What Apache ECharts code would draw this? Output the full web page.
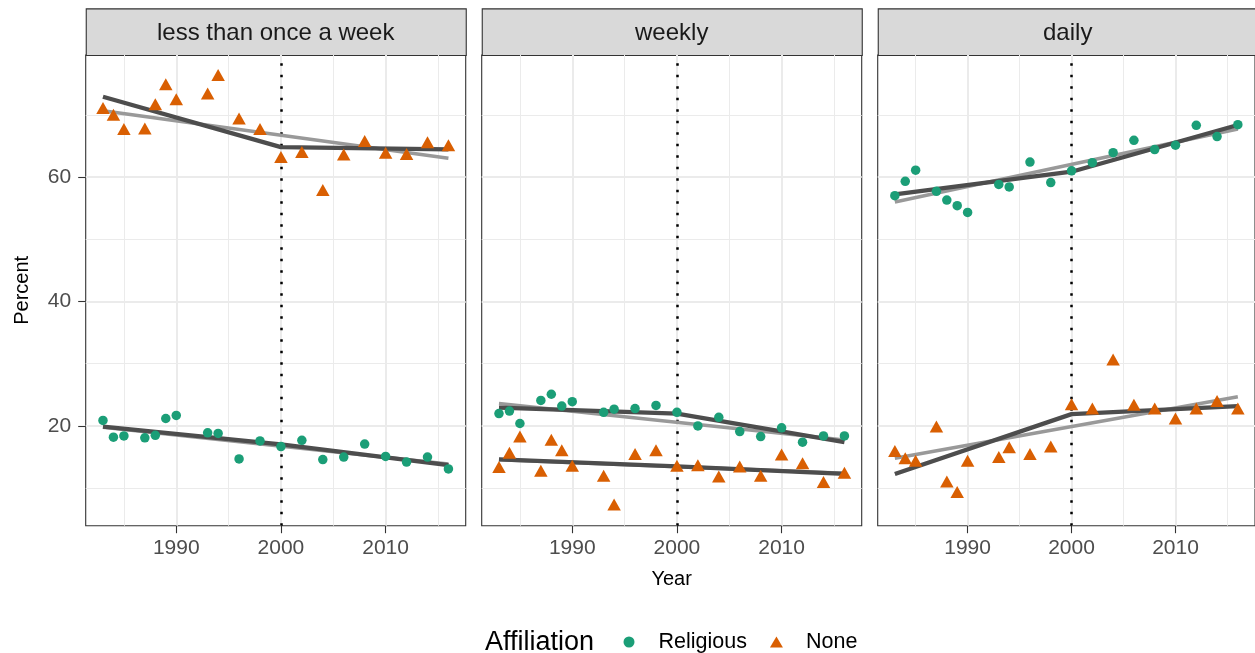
<!DOCTYPE html>
<html lang="en">
<head>
<meta charset="UTF-8">
<title>Affiliation by year</title>
<script src="https://cdn.jsdelivr.net/npm/echarts@6/dist/echarts.min.js"></script>
</head>
<body style="margin:0">
<div id="main" style="width:1255px;height:653px;"></div>
<script>
var facets = ['less than once a week', 'weekly', 'daily'];
var years = [1983, 1984, 1985, 1987, 1988, 1989, 1990, 1993, 1994, 1996, 1998,
             2000, 2002, 2004, 2006, 2008, 2010, 2012, 2014, 2016];

// points, one array per facet and affiliation
var relLess    = [20.9, 18.2, 18.4, 18.1, 18.5, 21.2, 21.7, 18.9, 18.8, 14.7, 17.6, 16.7, 17.7, 14.6, 15.0, 17.1, 15.1, 14.2, 15.0, 13.1];
var noneLess   = [71.1, 70.0, 67.7, 67.8, 71.7, 74.9, 72.5, 73.4, 76.4, 69.4, 67.7, 63.2, 64.0, 57.9, 63.6, 65.8, 63.9, 63.7, 65.6, 65.1];
var relWeekly  = [22.0, 22.4, 20.4, 24.1, 25.1, 23.2, 23.9, 22.2, 22.7, 22.8, 23.3, 22.2, 20.0, 21.4, 19.1, 18.3, 19.7, 17.4, 18.4, 18.4];
var noneWeekly = [13.4, 15.7, 18.3, 12.8, 17.8, 16.1, 13.6, 12.0, 7.4, 15.5, 16.1, 13.6, 13.7, 11.9, 13.5, 12.0, 15.4, 14.0, 11.0, 12.5];
var relDaily   = [57.0, 59.3, 61.1, 57.7, 56.3, 55.4, 54.3, 58.8, 58.4, 62.4, 59.1, 61.0, 62.3, 63.9, 65.9, 64.4, 65.1, 68.3, 66.5, 68.4];
var noneDaily  = [16.0, 14.8, 14.4, 19.9, 11.1, 9.4, 14.4, 15.0, 16.6, 15.5, 16.7, 23.5, 22.8, 30.7, 23.4, 22.8, 21.2, 22.8, 24.0, 22.8];

// straight fit (light grey), values at 1983 and 2016
var fitYears = [1983, 2016];
var fitRel  = [[19.8, 13.9], [23.6, 17.75], [56.0, 67.7]];
var fitNone = [[70.65, 63.0], [14.6, 12.4], [14.8, 24.7]];

// segmented fit (dark grey), break at 2000
var segYears = [1983, 2000, 2016];
var segRel  = [[19.9, 17.05, 13.7], [22.95, 22.0, 17.4], [57.2, 60.85, 68.35]];
var segNone = [[72.9, 64.8, 64.45], [14.65, 13.5, 12.3], [12.3, 21.9, 23.2]];

var breakYear = 2000;
var xTicks = [1990, 2000, 2010];
var xMinor = [1985, 1995, 2005, 2015];
var yTicks = [20, 40, 60];
var yMinor = [10, 30, 50, 70];

var relPts = [relLess, relWeekly, relDaily];
var nonePts = [noneLess, noneWeekly, noneDaily];

var panelLeft = [85.7, 481.7, 877.7];
var panelW = 380, panelTop = 55, panelH = 470.7;

function pairs(xs, ys) {
    return xs.map(function (x, i) { return [x, ys[i]]; });
}

var grids = [], xAxes = [], yAxes = [], series = [], graphics = [];

facets.forEach(function (f, i) {
    grids.push({
        left: panelLeft[i], top: panelTop, width: panelW, height: panelH,
        show: true, backgroundColor: '#fff', borderColor: '#333333', borderWidth: 1.1
    });
    xAxes.push({
        type: 'value', gridIndex: i, min: 1981.35, max: 2017.65,
        splitLine: {show: false},
        axisLine: {show: false},
        axisTick: {show: true, customValues: xTicks, length: 7.5, lineStyle: {color: '#333333', width: 1.1}},
        axisLabel: {customValues: xTicks, fontSize: 21, color: '#4D4D4D', margin: 12, fontFamily: 'Liberation Sans',
            formatter: function (v) { return String(v); }},
        name: i === 1 ? 'Year' : '',
        nameLocation: 'middle', nameGap: 44,
        nameTextStyle: {fontSize: 20, color: '#000', fontFamily: 'Liberation Sans'}
    });
    yAxes.push({
        type: 'value', gridIndex: i, min: 3.98, max: 79.6,
        splitLine: {show: false},
        axisLine: {show: false},
        axisTick: {show: i === 0, customValues: yTicks, length: 7.5, lineStyle: {color: '#333333', width: 1.1}},
        axisLabel: {show: i === 0, customValues: yTicks, fontSize: 21, color: '#4D4D4D', margin: 14.5, fontFamily: 'Liberation Sans'},
        name: i === 0 ? 'Percent' : '',
        nameLocation: 'middle', nameGap: 53,
        nameTextStyle: {fontSize: 20, color: '#000', fontFamily: 'Liberation Sans'}
    });

    // background grid lines
    var gl = [];
    xMinor.forEach(function (v) { gl.push({xAxis: v, lineStyle: {width: 1}}); });
    yMinor.forEach(function (v) { gl.push({yAxis: v, lineStyle: {width: 1}}); });
    xTicks.forEach(function (v) { gl.push({xAxis: v, lineStyle: {width: 2}}); });
    yTicks.forEach(function (v) { gl.push({yAxis: v, lineStyle: {width: 2}}); });
    series.push({
        type: 'scatter', xAxisIndex: i, yAxisIndex: i, data: [], z: 0, silent: true,
        markLine: {z: 0, silent: true, symbol: 'none', label: {show: false}, animation: false,
            lineStyle: {color: '#EBEBEB', type: 'solid'}, data: gl}
    });
    // dotted line at the break year
    series.push({
        type: 'scatter', xAxisIndex: i, yAxisIndex: i, data: [], z: 1, silent: true,
        markLine: {z: 1, silent: true, symbol: 'none', label: {show: false}, animation: false,
            lineStyle: {color: '#000', type: [2.5, 9], width: 2.5}, data: [{xAxis: breakYear}]}
    });

    [fitRel[i], fitNone[i]].forEach(function (d) {
        series.push({
            type: 'line', xAxisIndex: i, yAxisIndex: i, z: 2, symbol: 'none', silent: true,
            lineStyle: {color: '#999999', width: 3.6}, data: pairs(fitYears, d)
        });
    });
    [segRel[i], segNone[i]].forEach(function (d) {
        series.push({
            type: 'line', xAxisIndex: i, yAxisIndex: i, z: 3, symbol: 'none', silent: true,
            lineStyle: {color: '#4D4D4D', width: 4.3}, data: pairs(segYears, d)
        });
    });

    series.push({
        name: 'Religious', type: 'scatter', xAxisIndex: i, yAxisIndex: i, z: 4,
        symbol: 'circle', symbolSize: 9.5, itemStyle: {color: '#1B9E77', opacity: 1},
        data: pairs(years, relPts[i])
    });
    series.push({
        name: 'None', type: 'scatter', xAxisIndex: i, yAxisIndex: i, z: 4,
        symbol: 'triangle', symbolSize: [13.5, 12], itemStyle: {color: '#D95F02', opacity: 1},
        data: pairs(years, nonePts[i])
    });

    // facet strip
    graphics.push({
        type: 'rect', left: panelLeft[i], top: 8.3,
        shape: {width: panelW, height: panelTop - 8.3},
        style: {fill: '#D9D9D9', stroke: '#333333', lineWidth: 1.1}
    });
    graphics.push({
        type: 'text', x: panelLeft[i] + panelW / 2, y: 33.5,
        style: {text: f, fontSize: 24, fill: '#1A1A1A', align: 'center', verticalAlign: 'middle', fontFamily: 'Liberation Sans'}
    });
});

graphics.push({
    type: 'text', x: 485, y: 642.5,
    style: {text: 'Affiliation', fontSize: 27, fill: '#000', align: 'left', verticalAlign: 'middle', fontFamily: 'Liberation Sans'}
});

var myChart = echarts.init(document.getElementById('main'));
myChart.setOption({
    animation: false,
    backgroundColor: '#fff',
    textStyle: {fontFamily: 'Liberation Sans'},
    grid: grids,
    xAxis: xAxes,
    yAxis: yAxes,
    legend: {
        left: 623.5, top: 630, padding: 0,
        itemWidth: 13, itemHeight: 11, itemGap: 23,
        selectedMode: false,
        textStyle: {fontSize: 21.5, color: '#000', padding: [0, 0, 0, 18], lineHeight: 24},
        data: [{name: 'Religious', icon: 'circle'}, {name: 'None', icon: 'triangle'}]
    },
    graphic: graphics,
    series: series
});
</script>
</body>
</html>
